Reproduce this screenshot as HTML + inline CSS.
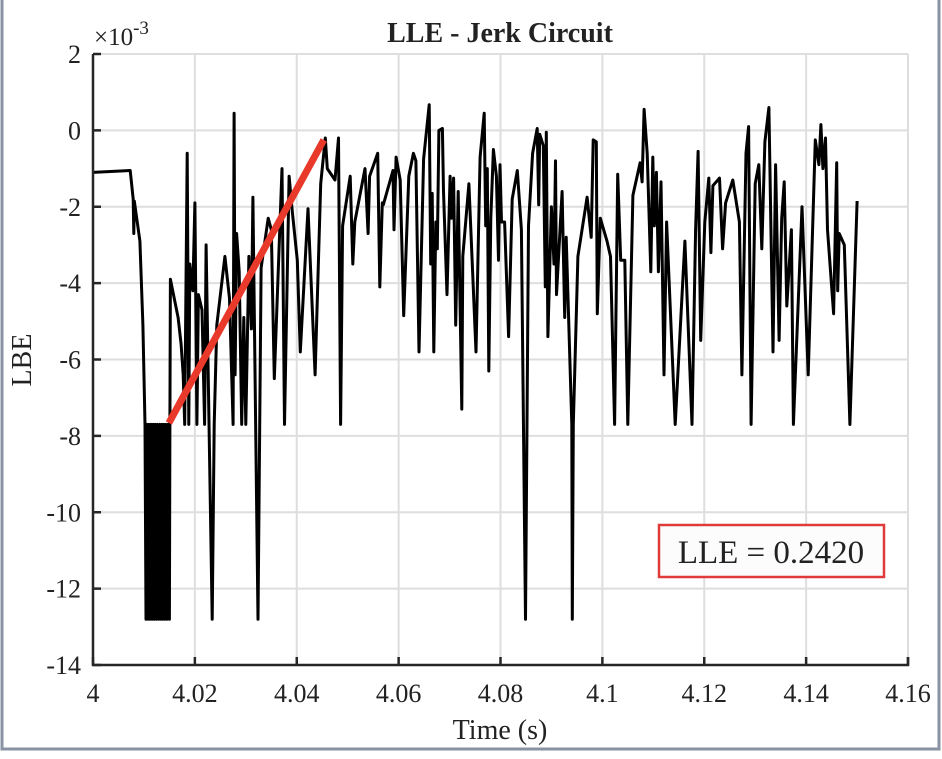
<!DOCTYPE html>
<html><head><meta charset="utf-8"><style>
html,body{margin:0;padding:0;background:#fff;}
body{width:942px;height:754px;overflow:hidden;}
svg, svg text{font-family:"Liberation Serif","Times New Roman",serif;fill:#222;}
</style></head><body>
<svg id="chart" width="942" height="754" xmlns="http://www.w3.org/2000/svg" font-family="Liberation Serif, Times New Roman, serif">
<rect x="0" y="0" width="942" height="754" fill="#fff"/>
<rect x="2" y="-2" width="937" height="751" fill="none" stroke="#8a93a3" stroke-width="3"/>
<g id="grid"></g>
<g id="series"></g>
<g id="axes"></g>
<text x="500" y="42" text-anchor="middle" font-size="28" font-weight="bold" fill="#111">LLE - Jerk Circuit</text>
<text x="94" y="45" font-size="25">×10<tspan dy="-11" font-size="19">-3</tspan></text>
<text transform="translate(31,360) rotate(-90)" text-anchor="middle" font-size="28">LBE</text>
<text x="500" y="739" text-anchor="middle" font-size="28">Time (s)</text>
<g>
<rect x="659" y="525" width="225" height="52" fill="#fcfcfc" stroke="#e03a3a" stroke-width="2.5"/>
<text x="771" y="563" text-anchor="middle" font-size="33" fill="#111">LLE = 0.2420</text>
</g>
</svg>
<script>
// time in ms offset from 4 s, values ×1e-3
const tMs = [0,7.3,7.9,8.0,8.1,9.2,9.8,10.2,
10.4,10.6,10.8,11.0,11.2,11.4,11.6,11.8,12.0,12.2,12.4,12.6,12.9,13.1,13.3,13.5,13.7,13.9,14.1,14.3,14.5,14.7,15.0,
15.1,15.2,16.7,17.3,17.7,18.0,18.5,18.8,19.0,19.6,20.0,20.4,20.7,21.4,21.9,22.2,23.4,23.8,24.3,25.9,26.8,27.5,27.7,27.9,28.2,28.7,29.2,29.6,30.0,30.6,31.1,31.4,32.4,33.0,34.4,35.0,35.6,37.1,37.6,38.5,39.1,40.1,40.7,42.2,43.6,44.7,45.6,46.0,47.5,48.2,48.6,49.0,50.5,51.0,51.4,53.4,54.0,54.3,55.9,56.3,56.8,
57.0,58.9,59.1,59.5,60.3,61.0,62.0,62.9,63.4,64.0,64.9,66.0,66.3,66.6,66.9,67.3,67.6,67.9,68.6,68.8,69.5,70.1,70.4,70.8,71.2,71.7,72.4,72.6,73.8,75.2,76.0,76.8,77.1,77.4,77.7,78.1,78.6,79.2,79.6,79.9,80.2,80.8,81.6,82.3,83.3,84.1,84.9,85.5,86.3,87.2,87.5,87.7,88.4,88.8,89.0,89.3,90.0,90.5,90.8,91.0,92.1,92.6,92.9,94.0,94.1,94.3,95.2,97.0,97.8,98.2,98.8,99.0,99.6,100.9,101.6,102.4,103.0,103.6,104.4,105.0,106.0,107.4,
107.8,108.2,108.8,109.5,109.9,110.2,110.6,111.0,111.5,112.1,112.6,114.3,116.2,117.6,118.3,118.8,119.3,120.1,120.9,121.3,121.7,123.0,123.6,124.2,125.6,126.9,127.4,128.2,128.7,129.2,130.0,130.7,131.3,131.9,132.7,133.5,134.0,134.7,135.2,135.7,136.2,137.1,137.5,139.2,140.4,141.8,142.5,142.9,143.3,143.8,144.2,145.4,146.0,146.2,146.5,147.5,148.6,150.0];
const lbe = [-1.1,-1.05,-1.8,-2.7,-1.85,-2.9,-5.1,-7.7,
-12.8,-7.7,-12.8,-7.7,-12.8,-7.7,-12.8,-7.7,-12.8,-7.7,-12.8,-7.7,-12.8,-7.7,-12.8,-7.7,-12.8,-7.7,-12.8,-7.7,-12.8,-7.7,-12.8,
-7.7,-3.9,-4.9,-5.6,-6.4,-7.7,-0.6,-7.7,-3.5,-4.2,-1.9,-7.7,-4.3,-4.7,-7.7,-3.0,-12.8,-7.7,-5.1,-3.3,-4.4,-7.7,0.45,-6.4,-2.7,-3.7,-7.7,-4.9,-7.7,-3.3,-5.2,-1.75,-12.8,-3.6,-2.3,-2.6,-6.5,-1.0,-7.7,-1.2,-2.1,-3.4,-5.8,-2.05,-6.4,-1.4,-0.2,-1.0,-1.3,-0.2,-7.7,-2.5,-1.2,-3.5,-2.4,-1.0,-2.7,-1.2,-0.6,-4.1,-1.9,
-1.95,-1.05,-2.6,-0.7,-1.3,-4.85,-1.2,-0.6,-0.8,-5.8,-0.75,0.67,-3.5,-1.65,-5.8,-2.4,-3.1,0.0,0.05,-1.6,-4.3,-1.2,-2.3,-1.25,-5.1,-1.6,-7.3,-3.3,-1.4,-5.8,-0.7,0.45,-2.5,-1.0,-6.3,-2.3,-0.5,-1.2,-3.4,-0.9,-2.4,-2.4,-5.4,-1.8,-1.05,-2.6,-12.8,-2.5,-0.6,0.05,-1.95,-0.1,-0.4,-4.1,-0.05,-5.4,-2.0,-3.5,-0.8,-4.3,-1.6,-4.9,-2.8,-7.7,-12.8,-7.7,-3.3,-1.75,-2.8,-0.25,-0.3,-4.8,-2.3,-2.9,-3.3,-7.7,-1.15,-3.4,-3.4,-7.7,-1.7,-0.85,
-1.35,0.55,-0.6,-3.7,-0.7,-2.5,-1.1,-3.7,-1.35,-6.4,-2.4,-7.7,-2.9,-7.7,-2.6,-0.55,-5.5,-2.4,-1.25,-3.2,-1.45,-1.25,-3.1,-1.9,-1.3,-2.4,-6.4,-0.6,0.1,-7.7,-1.4,-0.9,-3.1,-0.3,0.6,-5.8,-0.9,-5.5,-2.3,-1.35,-4.6,-2.6,-7.7,-2.0,-6.4,-0.25,-0.9,0.15,-1.0,-0.2,-2.6,-4.8,-0.85,-4.2,-2.7,-3.0,-7.7,-1.85];
const fitT = [4.0149, 4.0453];
const fitV = [-7.66, -0.25];
const xTicks = [4,4.02,4.04,4.06,4.08,4.1,4.12,4.14,4.16];
const xTickLabels = ["4","4.02","4.04","4.06","4.08","4.1","4.12","4.14","4.16"];
const yTicks = [2,0,-2,-4,-6,-8,-10,-12,-14];
const yTickLabels = ["2","0","-2","-4","-6","-8","-10","-12","-14"];

const L=93,R=908,T=54,B=665;
const xS = t => L + (t-4)/0.16*(R-L);
const yS = v => T + (2-v)/16*(B-T);
const NS='http://www.w3.org/2000/svg';
function mk(tag, attrs, parent){const e=document.createElementNS(NS,tag);for(const k in attrs)e.setAttribute(k,attrs[k]);parent.appendChild(e);return e;}
const grid=document.getElementById('grid'), axes=document.getElementById('axes'), series=document.getElementById('series');
xTicks.forEach((t,i)=>{
  const x=xS(t);
  const g=mk('line',{x1:x,x2:x,y1:T,y2:B,stroke:'#dedede','stroke-width':2},grid);
  
  
  const tk=mk('line',{x1:x,x2:x,y1:B,y2:B-8,stroke:'#262626','stroke-width':2.5},axes);
  
  
  const tx=mk('text',{x:x,y:B+37,'text-anchor':'middle','font-size':26},axes);
  tx.textContent=xTickLabels[i];
  
  
});
yTicks.forEach((v,i)=>{
  const y=yS(v);
  const g=mk('line',{x1:L,x2:R,y1:y,y2:y,stroke:'#dedede','stroke-width':2},grid);
  
  
  const tk=mk('line',{x1:L,x2:L+8,y1:y,y2:y,stroke:'#262626','stroke-width':2.5},axes);
  
  
  const tx=mk('text',{x:L-12,y:y+9,'text-anchor':'end','font-size':26},axes);
  tx.textContent=yTickLabels[i];
  
  
});
const ax=mk('path',{d:`M${L},${T} L${L},${B} L${R},${B} L${R},${B-8}`,fill:'none',stroke:'#262626','stroke-width':2.5},axes);


const d=tMs.map((t,i)=>(i?'L':'M')+xS(4+t/1000).toFixed(1)+','+yS(lbe[i]).toFixed(1)).join(' ');
const ln=mk('path',{d:d,fill:'none',stroke:'#000','stroke-width':3,'stroke-linejoin':'round'},series);


const fit=mk('line',{x1:xS(fitT[0]),y1:yS(fitV[0]),x2:xS(fitT[1]),y2:yS(fitV[1]),stroke:'#e8392b','stroke-width':7},series);


</script>
</body></html>
